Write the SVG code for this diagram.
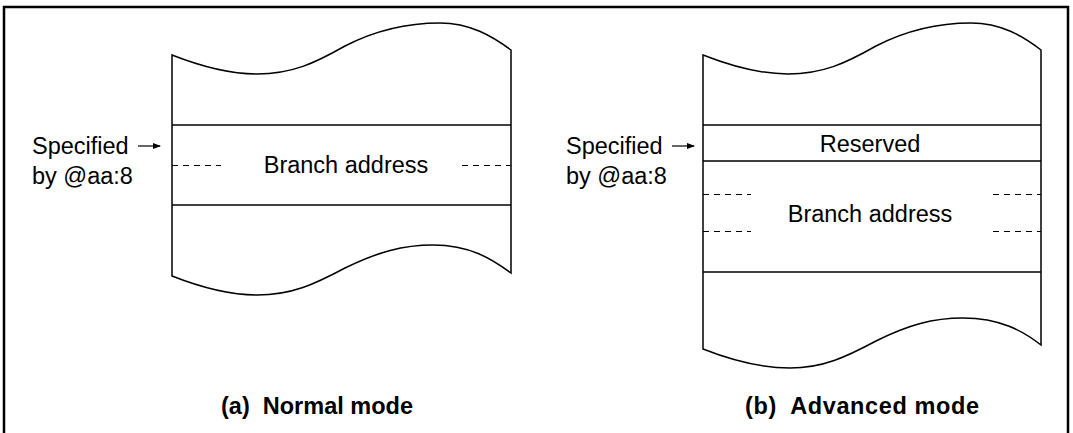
<svg xmlns="http://www.w3.org/2000/svg" width="1073" height="433" viewBox="0 0 1073 433">
<defs>
<style>
.frame{fill:none;stroke:#000;stroke-width:2.5}
.box{fill:#fff;stroke:#000;stroke-width:1.5;stroke-linejoin:miter}
.rule{stroke:#000;stroke-width:1.5}
.dash{stroke:#000;stroke-width:1;stroke-dasharray:6 5}
.lbl{font-family:"Liberation Sans",Arial,sans-serif;font-size:23.5px;fill:#000}
.cap{font-family:"Liberation Sans",Arial,sans-serif;font-size:23.5px;font-weight:bold;fill:#000;white-space:pre}
.arr{stroke:#000;stroke-width:1.2;fill:none}
</style>
<marker id="ah" markerWidth="8" markerHeight="6" refX="7" refY="3" orient="auto" markerUnits="userSpaceOnUse">
<path d="M0,0 L8,3 L0,6 Z" fill="#000"/>
</marker>
</defs>
<rect x="4" y="7" width="1064" height="440" class="frame"/>

<g id="normal-mode">
<path class="box" d="M172,55 C200,66 228,74 257,74 C292,74 315,63 345,46 C378,29 410,23 440,23 C470,23 492,36 511,50 L511,273 C492,259 470,245 433,245 C403,245 378,252 345,268 C315,284 292,295 257,295 C228,295 200,287 172,276 Z"/>
<line class="rule" x1="172" y1="125" x2="511" y2="125"/>
<line class="rule" x1="172" y1="205" x2="511" y2="205"/>
<line class="dash" x1="172" y1="165.5" x2="221" y2="165.5"/>
<line class="dash" x1="462" y1="165.5" x2="511" y2="165.5"/>
<text class="lbl" x="346" y="173" text-anchor="middle">Branch address</text>
<text class="lbl" x="32" y="154">Specified</text>
<text class="lbl" x="32" y="184">by @aa:8</text>
<text class="cap" x="221" y="414" xml:space="preserve">(a)  Normal mode</text>
</g>

<g id="advanced-mode">
<path class="box" d="M703,55 C731,66 759,74 788,74 C823,74 846,63 876,46 C909,29 941,23 971,23 C1001,23 1023,36 1041,50 L1041,345 C1023,331 1000,318 963,318 C933,318 908,325 876,341 C846,357 823,368 790,368 C760,368 731,360 703,349 Z"/>
<line class="rule" x1="703" y1="125" x2="1041" y2="125"/>
<line class="rule" x1="703" y1="161" x2="1041" y2="161"/>
<line class="rule" x1="703" y1="272" x2="1041" y2="272"/>
<line class="dash" x1="703" y1="194.5" x2="751" y2="194.5"/>
<line class="dash" x1="993" y1="194.5" x2="1041" y2="194.5"/>
<line class="dash" x1="703" y1="231.5" x2="751" y2="231.5"/>
<line class="dash" x1="993" y1="231.5" x2="1041" y2="231.5"/>
<text class="lbl" x="870" y="152" text-anchor="middle">Reserved</text>
<text class="lbl" x="870" y="222" text-anchor="middle">Branch address</text>
<text class="lbl" x="566" y="154">Specified</text>
<text class="lbl" x="566" y="184">by @aa:8</text>
<text class="cap" x="745" y="414" xml:space="preserve" textLength="234" lengthAdjust="spacing">(b)  Advanced mode</text>
</g>

<g id="connectors">
<line class="arr" x1="138" y1="146" x2="160" y2="146" marker-end="url(#ah)"/>
<line class="arr" x1="672" y1="146" x2="694" y2="146" marker-end="url(#ah)"/>
</g>
</svg>
